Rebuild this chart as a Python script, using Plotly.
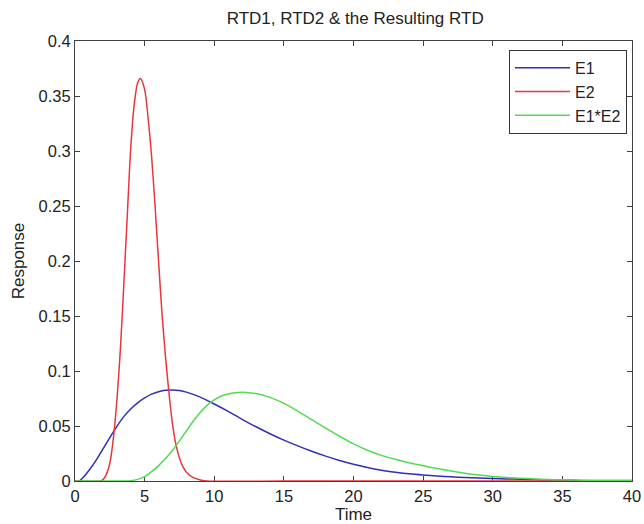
import plotly.graph_objects as go

# E1: first residence time distribution
t_e1 = [0, 0.3, 0.6, 1, 1.5, 2, 2.5, 3, 3.5, 4, 4.5, 5, 5.5, 6, 6.5, 7, 7.5, 8, 9,
        10, 11, 12, 13, 14, 15, 16, 17, 18, 19, 20, 21, 22, 23, 24, 25, 26, 27,
        28, 29, 30, 31, 32, 33, 34, 35, 36.2]
e1 = [0, 0, 0.0035, 0.0095, 0.0185, 0.029, 0.0395, 0.0495, 0.0585, 0.0655, 0.071,
      0.0755, 0.079, 0.0812, 0.0825, 0.0828, 0.0822, 0.0808, 0.0762, 0.0700,
      0.0633, 0.0561, 0.0493, 0.0430, 0.0372, 0.0319, 0.0270, 0.0226, 0.0187,
      0.0152, 0.0122, 0.0098, 0.0080, 0.0065, 0.0054, 0.0045, 0.0038, 0.0032,
      0.0027, 0.0023, 0.0019, 0.0016, 0.0013, 0.0010, 0.0008, 0.0005]

# E2: second (narrow) residence time distribution
t_e2 = [0, 1.8, 2.0, 2.25, 2.5, 2.75, 3.0, 3.25, 3.5, 3.75, 4.0, 4.25, 4.5, 4.7,
        5.0, 5.25, 5.5, 5.75, 6.0, 6.25, 6.5, 6.75, 7.0, 7.25, 7.5, 7.75, 8.0,
        8.5, 9.0, 9.5, 15, 20, 25, 30, 35, 40]
e2 = [0, 0, 0.001, 0.006, 0.016, 0.038, 0.072, 0.118, 0.177, 0.240, 0.302, 0.342,
      0.362, 0.366, 0.356, 0.330, 0.295, 0.250, 0.200, 0.152, 0.113, 0.080, 0.052,
      0.033, 0.021, 0.013, 0.008, 0.003, 0.001, 0, 0, 0, 0, 0, 0, 0]

# E1*E2: convolution of the two distributions
t_conv = [0, 3.5, 4, 4.5, 5, 5.5, 6, 6.5, 7, 7.5, 8, 8.5, 9, 9.5, 10, 10.5, 11,
          11.5, 12, 12.5, 13, 13.5, 14, 15, 16, 17, 18, 19, 20, 21, 22, 23, 24,
          25, 26, 27, 28, 29, 30, 31, 32, 33, 34, 35, 36, 38, 40]
conv = [0, 0, 0.0003, 0.0015, 0.004, 0.0085, 0.014, 0.0205, 0.028, 0.0365, 0.0455,
        0.0545, 0.0625, 0.069, 0.0738, 0.077, 0.079, 0.0802, 0.0806, 0.0803,
        0.0795, 0.078, 0.076, 0.0705, 0.0635, 0.0557, 0.048, 0.0407, 0.0338,
        0.028, 0.0233, 0.0197, 0.0166, 0.0139, 0.0113, 0.009, 0.007, 0.0054,
        0.0042, 0.0032, 0.0025, 0.0019, 0.0014, 0.0011, 0.0009, 0.0007, 0.0006]

series = [
    ("E1", t_e1, e1, "#2f2fbc"),
    ("E2", t_e2, e2, "#e8363c"),
    ("E1*E2", t_conv, conv, "#4fdc4f"),
]

FONT = "Liberation Sans, Arial, sans-serif"
TXT = "#222222"

fig = go.Figure()
for name, t, y, color in series:
    fig.add_trace(go.Scatter(
        x=t, y=y, name=name, mode="lines",
        line=dict(color=color, width=1.5, shape="spline", smoothing=0.8),
    ))

axis_common = dict(
    showline=True, linecolor="#404040", linewidth=1, mirror="ticks",
    ticks="inside", ticklen=5, tickcolor="#404040",
    showgrid=False, zeroline=False, automargin=False,
    tickfont=dict(family=FONT, size=16.5, color=TXT),
    layer="below traces",
)

fig.update_layout(
    width=644, height=524,
    margin=dict(l=75, r=12, t=41, b=43),
    paper_bgcolor="white", plot_bgcolor="white",
    title=dict(text="RTD1, RTD2 & the Resulting RTD", xref="paper", x=0.503,
               xanchor="center", y=0.966, yanchor="middle",
               font=dict(family=FONT, size=17, color=TXT)),
    xaxis=dict(range=[0, 40], dtick=5, tick0=0,
               title=dict(text="Time", standoff=2,
                          font=dict(family=FONT, size=17, color=TXT)),
               **axis_common),
    yaxis=dict(range=[0, 0.4], dtick=0.05, tick0=0,
               title=dict(text="Response", standoff=9,
                          font=dict(family=FONT, size=17, color=TXT)),
               **axis_common),
    legend=dict(x=0.991, y=0.98, xanchor="right", yanchor="top",
                bgcolor="white", bordercolor="#333333", borderwidth=1,
                font=dict(family=FONT, size=16, color=TXT),
                tracegroupgap=0, itemwidth=55),
    showlegend=True,
)

fig.write_html("out.html")
